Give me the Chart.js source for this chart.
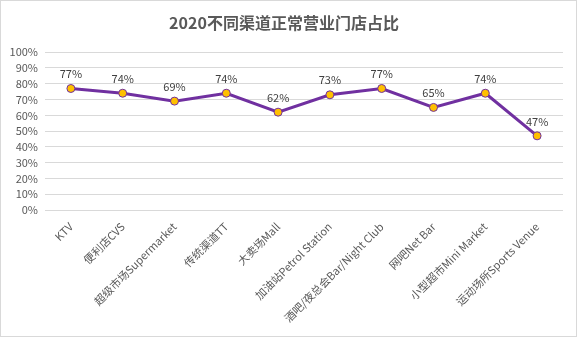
<!DOCTYPE html>
<html>
<head>
<meta charset="utf-8">
<script src="https://cdn.jsdelivr.net/npm/chart.js@4"></script>
<style>
  html, body { margin: 0; padding: 0; background: #fff; }
  #wrap { position: relative; width: 575px; height: 335px; border: 1px solid #d9d9d9; }
  canvas { display: block; }
</style>
</head>
<body>
<div id="wrap"><canvas id="c" width="575" height="335"></canvas></div>
<script>
// ── Data ─────────────────────────────────────────────────────────────────────
const CATEGORIES = ['KTV', '便利店CVS', '超级市场Supermarket', '传统渠道TT', '大卖场Mall',
  '加油站Petrol Station', '酒吧/夜总会Bar/Night Club', '网吧Net Bar', '小型超市Mini Market', '运动场所Sports Venue'];
const OPEN_SHARE = [77, 74, 69, 74, 62, 73, 77, 65, 74, 47];
const Y_TICKS = [0, 10, 20, 30, 40, 50, 60, 70, 80, 90, 100];

const FONT = "'Noto Sans CJK SC', 'Noto Sans', sans-serif";

// ── Value labels above each point ────────────────────────────────────────────
const valueLabels = {
  id: 'valueLabels',
  afterDatasetsDraw(chart) {
    const ctx = chart.ctx;
    const meta = chart.getDatasetMeta(0);
    ctx.save();
    ctx.font = '11px ' + FONT;
    ctx.fillStyle = '#404040';
    ctx.textAlign = 'center';
    ctx.textBaseline = 'bottom';
    meta.data.forEach((pt, i) => {
      ctx.fillText(OPEN_SHARE[i] + '%', pt.x, pt.y - 9);
    });
    ctx.restore();
  }
};

new Chart(document.getElementById('c'), {
  type: 'line',
  data: {
    labels: CATEGORIES,
    datasets: [{
      data: OPEN_SHARE,
      borderColor: '#7030a0',
      borderWidth: 3,
      pointBackgroundColor: '#ffc000',
      pointBorderColor: '#7030a0',
      pointBorderWidth: 1,
      pointRadius: 4,
      tension: 0,
    }],
  },
  options: {
    responsive: false,
    animation: false,
    layout: { padding: { left: 4, right: 13, top: 0, bottom: 0 } },
    plugins: {
      legend: { display: false },
      tooltip: { enabled: false },
      title: {
        display: true,
        text: '2020不同渠道正常营业门店占比',
        color: '#595959',
        font: { family: FONT, size: 16, weight: 'bold' },
        padding: { top: 12, bottom: 20 },
      },
    },
    scales: {
      x: {
        offset: true,
        grid: { display: false },
        border: { display: false },
        ticks: {
          color: '#595959',
          font: { family: FONT, size: 11 },
          maxRotation: 45,
          minRotation: 45,
          autoSkip: false,
          padding: 2,
        },
        afterFit: s => { s.height = 126; },
      },
      y: {
        min: 0,
        max: 100,
        afterBuildTicks: s => { s.ticks = Y_TICKS.map(v => ({ value: v })); },
        grid: { color: '#d9d9d9', drawTicks: false },
        border: { display: false },
        ticks: {
          color: '#595959',
          font: { family: FONT, size: 11 },
          padding: 7,
          autoSkip: false,
          callback: v => v + '%',
        },
        afterFit: s => { s.width = 40; },
      },
    },
  },
  plugins: [valueLabels],
});
</script>
</body>
</html>
